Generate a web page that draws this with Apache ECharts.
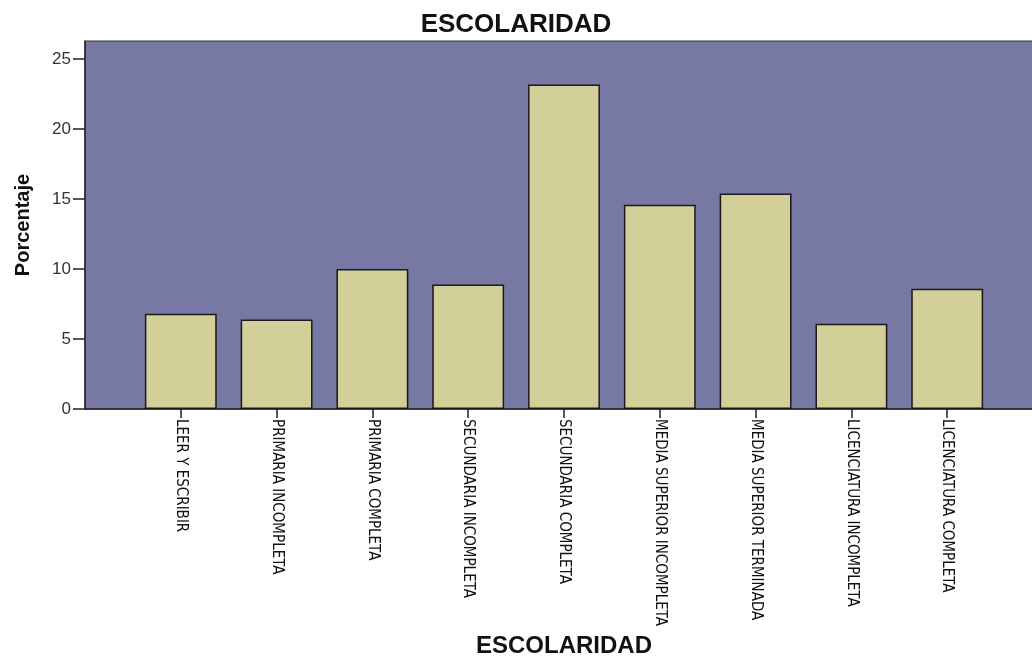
<!DOCTYPE html>
<html>
<head>
<meta charset="utf-8">
<script src="https://cdn.jsdelivr.net/npm/echarts@6/dist/echarts.min.js"></script>
<style>
  html, body { margin: 0; padding: 0; background: #ffffff; }
  #chart { width: 1032px; height: 658px; }
</style>
</head>
<body>
<div id="chart"></div>
<script>
// Nivel de escolaridad (porcentaje de encuestados)
const categories = [
  'LEER Y ESCRIBIR',
  'PRIMARIA INCOMPLETA',
  'PRIMARIA COMPLETA',
  'SECUNDARIA INCOMPLETA',
  'SECUNDARIA COMPLETA',
  'MEDIA SUPERIOR INCOMPLETA',
  'MEDIA SUPERIOR TERMINADA',
  'LICENCIATURA INCOMPLETA',
  'LICENCIATURA COMPLETA'
];
const porcentaje = [6.8, 6.4, 10.0, 8.9, 23.2, 14.6, 15.4, 6.1, 8.6];
const yTicks = [0, 5, 10, 15, 20, 25];

// one empty slot on each side keeps a full category step of margin inside the plot
const axisData = [''].concat(categories, ['']);
const barData = [null].concat(porcentaje, [null]);
const isCategory = (idx, value) => value !== '';

const chart = echarts.init(document.getElementById('chart'), null, { renderer: 'canvas' });
chart.setOption({
  animation: false,
  backgroundColor: '#ffffff',
  title: {
    text: 'ESCOLARIDAD',
    left: 'center',
    top: 7,
    textStyle: { fontFamily: 'Liberation Sans, Arial, sans-serif', fontSize: 26, fontWeight: 'bold', color: '#111' }
  },
  grid: {
    left: 85, top: 41, right: -11, bottom: 249,
    show: true,
    backgroundColor: '#7878a5',
    borderColor: '#333',
    borderWidth: 1,
    containLabel: false,
    outerBoundsMode: 'none'
  },
  xAxis: {
    type: 'category',
    data: axisData,
    boundaryGap: false,
    name: 'ESCOLARIDAD',
    nameLocation: 'middle',
    nameGap: 224,
    nameTextStyle: { fontFamily: 'Liberation Sans, Arial, sans-serif', fontSize: 24, fontWeight: 'bold', color: '#111' },
    axisLine: { show: true, lineStyle: { color: '#222', width: 1.5 } },
    axisTick: { show: true, interval: isCategory, length: 9, lineStyle: { color: '#222', width: 1.5 } },
    axisLabel: {
      interval: isCategory,
      rotate: -90,
      margin: 10,
      fontFamily: "'DejaVu Sans Condensed', 'Liberation Sans', sans-serif",
      fontSize: 15,
      color: '#111'
    },
    splitLine: { show: false }
  },
  yAxis: {
    type: 'value',
    min: 0,
    max: 26.3,
    interval: 5,
    name: 'Porcentaje',
    nameLocation: 'middle',
    nameRotate: 90,
    nameGap: 52,
    nameTextStyle: { fontFamily: 'Liberation Sans, Arial, sans-serif', fontSize: 20, fontWeight: 'bold', color: '#111' },
    axisLine: { show: true, lineStyle: { color: '#222', width: 1.5 } },
    axisTick: { show: true, length: 12, customValues: yTicks, lineStyle: { color: '#222', width: 1.5 } },
    axisLabel: {
      customValues: yTicks,
      margin: 14,
      fontFamily: 'Liberation Sans, Arial, sans-serif',
      fontSize: 17,
      color: '#333'
    },
    splitLine: { show: false }
  },
  series: [{
    type: 'bar',
    data: barData,
    barWidth: '75%',
    itemStyle: { color: '#d3cf98', borderColor: '#1a1a1a', borderWidth: 1.5 }
  }]
});
</script>
</body>
</html>
